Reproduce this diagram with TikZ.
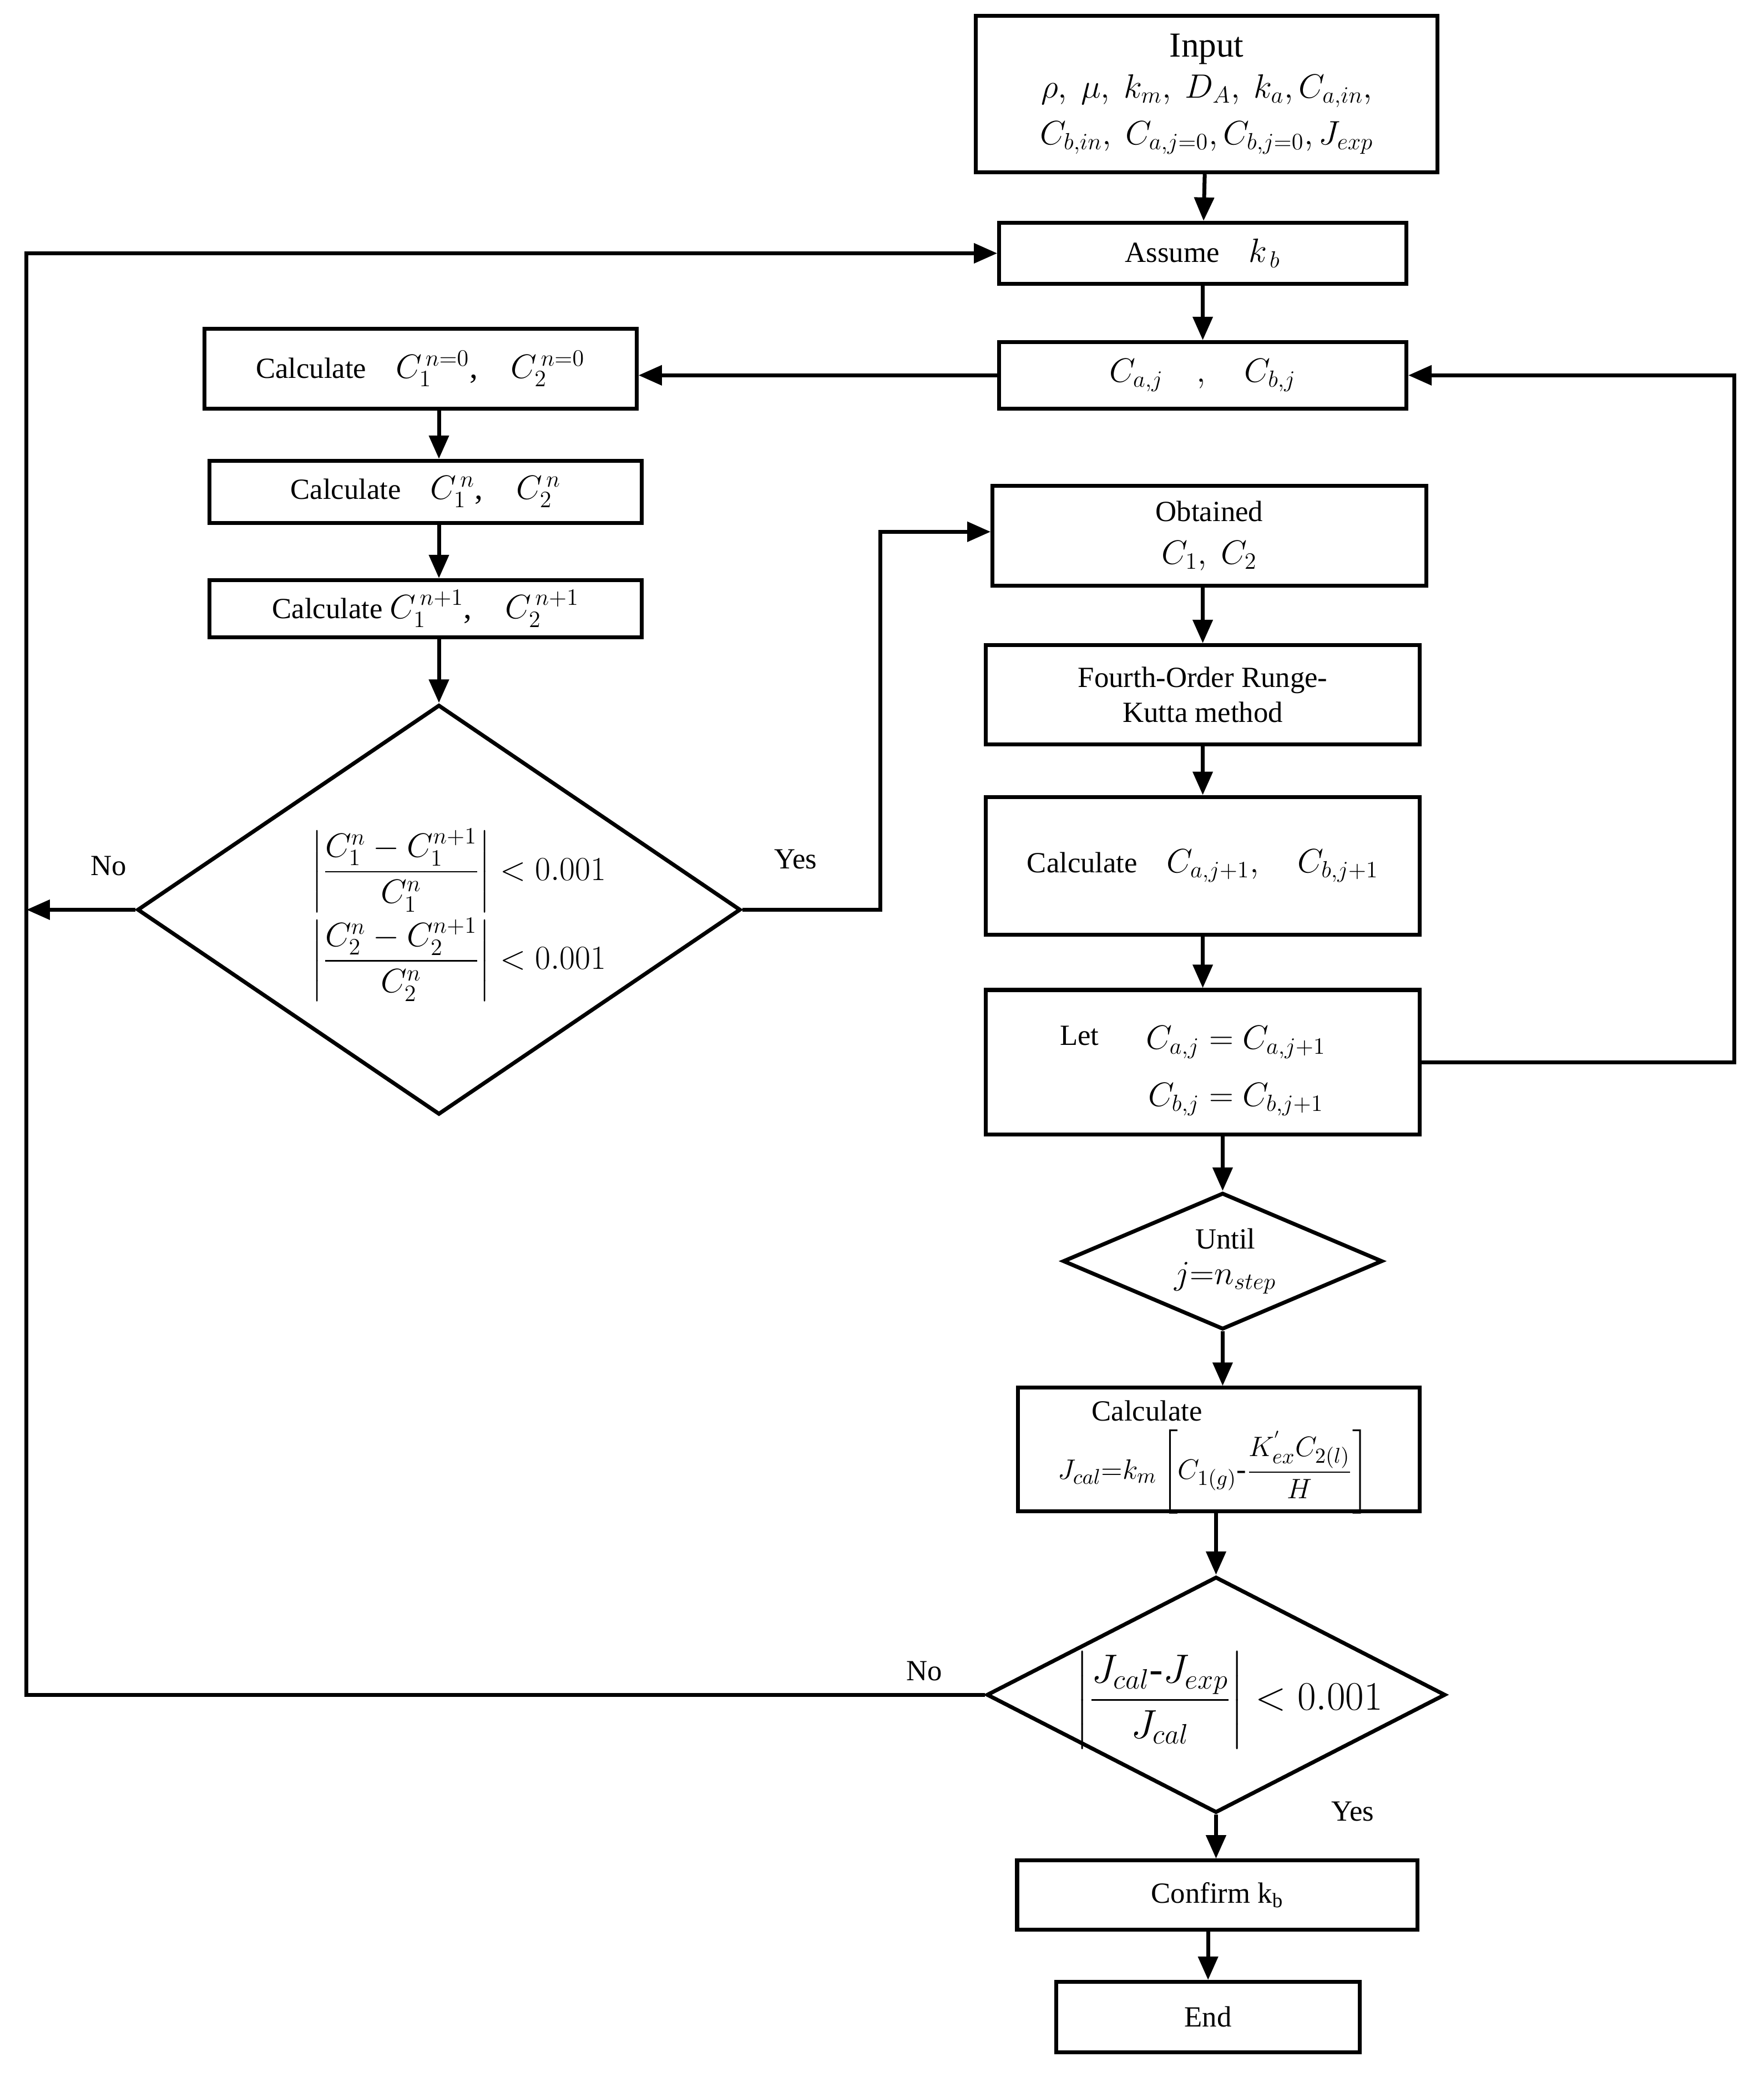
\documentclass[tikz,border=0pt]{standalone}
\usepackage{fontspec}
\setmainfont{Liberation Serif}
\usepackage{amsmath}
\usetikzlibrary{shapes.geometric,arrows.meta}
\begin{document}
\begin{tikzpicture}[x=0.0239cm,y=-0.0239cm,
  every node/.style={font=\fontsize{15}{18}\selectfont},
  box/.style={draw,line width=2pt,rectangle,inner sep=0pt},
  dia/.style={draw,line width=2pt,diamond,inner sep=0pt},
  mt/.style={font=\fontsize{17}{20}\selectfont},
  arr/.style={line width=2pt,-{Triangle[length=12pt,width=10pt]}}]
\useasboundingbox (0,0) rectangle (1330,1570);
\newcommand\bx[6]{\node[box,minimum width={#4*0.0239cm},minimum height={#5*0.0239cm},align=center] (#1) at (#2,#3) {#6};}
\newcommand\bm[1]{{\fontsize{17}{20}\selectfont #1}}
\bx{inp}{910}{71}{348}{118}{\fontsize{18}{21}\selectfont Input\\[3pt] \bm{$\rho,\ \mu,\ k_m,\ D_A,\ k_a, C_{a,in},$}\\[6pt] \bm{$C_{b,in},\ C_{a,j=0}, C_{b,j=0}, J_{exp}$}}
\bx{ass}{907}{191}{307}{46}{Assume\quad \bm{$k_{\,b}$}}
\bx{cab}{907}{283}{307}{50}{\bm{$C_{a,j}\quad ,\quad C_{b,j}$}}
\bx{c0}{317}{278}{326}{60}{Calculate\quad \bm{$C_1^{\,n=0}$,\quad $C_2^{\,n=0}$}}
\bx{c1}{321}{371}{326}{47}{Calculate\quad \bm{$C_1^{\,n}$,\quad $C_2^{\,n}$}}
\bx{c2}{321}{459}{326}{43}{Calculate\ \bm{$C_1^{\,n+1}$,\quad $C_2^{\,n+1}$}}
\node[dia,minimum width={455*0.0239cm},minimum height={309*0.0239cm}] (d1) at (331,686) {};
\node[align=left] (d1t) at (346,690) {\fontsize{18}{21}\selectfont $\left|\dfrac{C_1^n-C_1^{n+1}}{C_1^n}\right|<0.001$\\[2pt] \fontsize{18}{21}\selectfont $\left|\dfrac{C_2^n-C_2^{n+1}}{C_2^n}\right|<0.001$};
\bx{obt}{912}{404}{327}{75}{Obtained\\[4pt] \bm{$C_1,\ C_2$}}
\bx{rk}{907}{524}{327}{75}{Fourth-Order Runge-\\ Kutta method}
\bx{cj}{907}{653}{327}{104}{Calculate\quad \bm{$C_{a,j+1},\quad C_{b,j+1}$}}
\bx{let}{907}{801}{327}{109}{}
\node (lett) at (814,781) {Let};
\node[mt] (l1) at (932,786) {$C_{a,j}=C_{a,j+1}$};
\node[mt] (l2) at (932,829) {$C_{b,j}=C_{b,j+1}$};
\node[dia,minimum width={241*0.0239cm},minimum height={103*0.0239cm}] (un) at (922,951) {};
\node[align=center] (unt) at (924,951) {Until\\ \bm{$j{=}n_{step}$}};
\bx{jc}{919}{1093}{303}{93}{}
\node (jct) at (865,1064) {Calculate};
\node (jcf) at (915,1110) {$J_{cal}{=}k_m\left[C_{1(g)}\text{-}\dfrac{K^{'}_{ex}C_{2(l)}}{H}\right]$};
\node[dia,minimum width={346*0.0239cm},minimum height={178*0.0239cm}] (d2) at (917,1278) {};
\node (d2t) at (927,1282) {\fontsize{21}{25}\selectfont $\left|\dfrac{J_{cal}\text{-}J_{exp}}{J_{cal}}\right|<0.001$};
\bx{conf}{918}{1429}{302}{52}{Confirm k$_\mathrm{b}$}
\bx{end}{911}{1521}{229}{53}{End}
\coordinate (nL) at (20,686);
\coordinate (b1) at (20,1278);
\coordinate (b2) at (20,191);
\coordinate (y1) at (664,686);
\coordinate (y2) at (664,401);
\coordinate (r1) at (1308,801);
\coordinate (r2) at (1308,283);
\draw[arr] (inp) -- (ass);
\draw[arr] (ass) -- (cab);
\draw[arr] (cab.west) -- (cab.west -| c0.east);
\draw[arr] (c0.south -| d1.north) -- (c1.north -| d1.north);
\draw[arr] (c1.south -| d1.north) -- (c2.north -| d1.north);
\draw[arr] (c2.south -| d1.north) -- (d1.north);
\draw[arr] (d1.west) -- (nL);
\draw[arr] (d1.east) -- (y1) -- (y2) -- (y2 -| obt.west);
\draw[arr] (obt.south -| rk.north) -- (rk.north);
\draw[arr] (rk) -- (cj);
\draw[arr] (cj) -- (let);
\draw[arr] (let.east) -- (r1) -- (r2) -- (cab.east);
\draw[arr] (let.south -| un.north) -- (un.north);
\draw[arr] (un.south) -- (un.south |- jc.north);
\draw[arr] (jc.south -| d2.north) -- (d2.north);
\draw[arr] (d2.south) -- (d2.south |- conf.north);
\draw[arr] (conf.south -| end.north) -- (end.north);
\draw[arr] (d2.west) -- (b1) -- (b2) -- (ass.west);
\node at (82,653) {No};
\node at (600,648) {Yes};
\node at (697,1260) {No};
\node at (1020,1366) {Yes};
\end{tikzpicture}
\end{document}
